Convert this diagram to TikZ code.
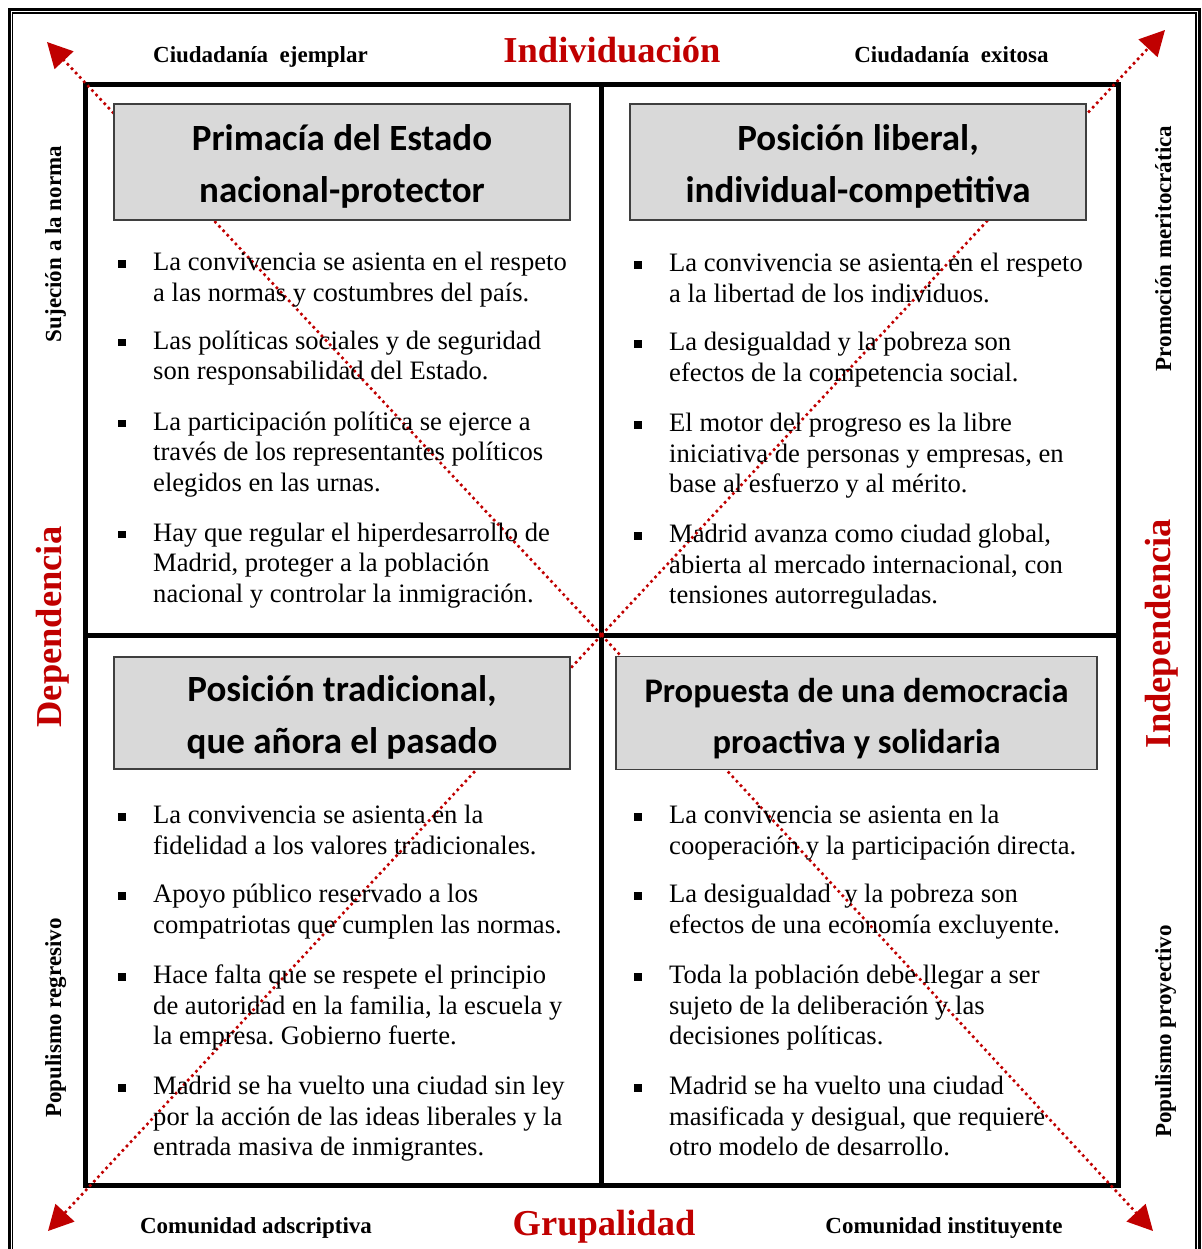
\documentclass[tikz,border=0pt]{standalone}
\usepackage{fontspec}
\setmainfont{Liberation Serif}
\newfontfamily\hdrfont{Carlito}
\usetikzlibrary{arrows.meta, positioning}

\definecolor{axisred}{HTML}{C00000}
\definecolor{hdrfill}{HTML}{D9D9D9}
\definecolor{hdredge}{HTML}{3F3F3F}

\newcommand{\sqbullet}{\llap{\rule[3pt]{7.5pt}{7.5pt}\hspace{27.5pt}}\strut}
\newcommand{\hdrtop}{\rule{0pt}{35pt}}
\frenchspacing

\begin{document}
\begin{tikzpicture}[
    x=1pt, y=-1pt,
    hdr/.style={draw=hdredge, fill=hdrfill, line width=1.5pt, inner sep=0pt, outer sep=0pt,
        align=center, font=\hdrfont\bfseries\fontsize{37}{52}\selectfont},
    item/.style={inner sep=0pt, align=left, font=\fontsize{26.6}{30.5}\selectfont},
    side/.style={rotate=90, anchor=base, font=\bfseries\fontsize{23}{27}\selectfont},
    corner/.style={anchor=base, font=\bfseries\fontsize{23}{27}\selectfont},
    axis/.style={anchor=base, text=axisred, font=\bfseries\fontsize{36.5}{40}\selectfont},
    diag/.style={draw=axisred, line width=2.6pt, dash pattern=on 2.6pt off 3.4pt,
        -{Triangle[length=25pt, width=25.5pt]}}
]
    \useasboundingbox (0,0) rectangle (1201,1249);

    % double frame (bottom edge runs off the page)
    \draw[line width=3pt] (9.5,1260) -- (9.5,10) -- (1199.5,10) -- (1199.5,1260);
    \draw[line width=1.2pt] (12.8,1260) -- (12.8,13) -- (1196,13) -- (1196,1260);

    % quadrant grid
    \node[draw, line width=5pt, minimum width=1033pt, minimum height=1100pt, inner sep=0pt, outer sep=0pt]
        (grid) at (601.5,635) {};
    \draw[line width=5pt] (grid.north) -- (grid.south);
    \draw[line width=5pt] (grid.west) -- (grid.east);

    % diagonals
    \coordinate (tipTL) at (47,42);
    \coordinate (tipTR) at (1165,30);
    \coordinate (tipBL) at (48,1231);
    \coordinate (tipBR) at (1153,1231);
    \draw[diag] (grid.center) -- (tipTL);
    \draw[diag] (grid.center) -- (tipTR);
    \draw[diag] (grid.center) -- (tipBL);
    \draw[diag] (grid.center) -- (tipBR);

    % axis and corner labels
    \node[axis] (indiv) at (612,62.3) {Individuación};
    \node[axis] (grupo) at (604,1235) {Grupalidad};
    \node[axis, rotate=90] (depen) at (61,627) {Dependencia};
    \node[axis, rotate=90] (indep) at (1170,633.5) {Independencia};
    \node[corner] (cejem) at (260.5,62.3) {Ciudadanía\ \ ejemplar};
    \node[corner] (cexit) at (951.5,62.3) {Ciudadanía\ \ exitosa};
    \node[corner] (cadsc) at (256,1233.3) {Comunidad adscriptiva};
    \node[corner] (cinst) at (944,1233.3) {Comunidad instituyente};
    \node[side] (sujec) at (61,244) {Sujeción a la norma};
    \node[side] (popreg) at (61,1018) {Populismo regresivo};
    \node[side] (promo) at (1171,248.5) {Promoción meritocrática};
    \node[side] (poppro) at (1171,1031.5) {Populismo proyectivo};

    % headers
    \node[hdr, minimum width=456pt, minimum height=116pt] (hA) at (342,162)
        {\hdrtop Primacía del Estado\\nacional-protector};
    \node[hdr, minimum width=456pt, minimum height=116pt] (hB) at (858,162)
        {\hdrtop Posición liberal,\\individual-competitiva};
    \node[hdr, minimum width=456pt, minimum height=112pt] (hC) at (342,713)
        {\hdrtop Posición tradicional,\\que añora el pasado};
    \node[hdr, minimum width=481pt, minimum height=113pt, font=\hdrfont\bfseries\fontsize{34.5}{51}\selectfont]
        (hD) at (856.5,713) {\hdrtop Propuesta de una democracia\\proactiva y solidaria};

    % top left
    \node[item, below right=29.2pt and 39pt of hA.south west] (a1)
        {\sqbullet La convivencia se asienta en el respeto\\a las normas y costumbres del país.\strut};
    \node[item, below=17pt of a1.south west, anchor=north west] (a2)
        {\sqbullet Las políticas sociales y de seguridad\\son responsabilidad del Estado.\strut};
    \node[item, below=19.5pt of a2.south west, anchor=north west] (a3)
        {\sqbullet La participación política se ejerce a\\través de los representantes políticos\\elegidos en las urnas.\strut};
    \node[item, below=19.5pt of a3.south west, anchor=north west] (a4)
        {\sqbullet Hay que regular el hiperdesarrollo de\\Madrid, proteger a la población\\nacional y controlar la inmigración.\strut};

    % top right
    \node[item, below right=30.2pt and 39pt of hB.south west] (b1)
        {\sqbullet La convivencia se asienta en el respeto\\a la libertad de los individuos.\strut};
    \node[item, below=17.5pt of b1.south west, anchor=north west] (b2)
        {\sqbullet La desigualdad y la pobreza son\\efectos de la competencia social.\strut};
    \node[item, below=19.5pt of b2.south west, anchor=north west] (b3)
        {\sqbullet El motor del progreso es la libre\\iniciativa de personas y empresas, en\\base al esfuerzo y al mérito.\strut};
    \node[item, below=19.5pt of b3.south west, anchor=north west] (b4)
        {\sqbullet Madrid avanza como ciudad global,\\abierta al mercado internacional, con\\tensiones autorreguladas.\strut};

    % bottom left
    \node[item, below right=33.2pt and 39pt of hC.south west] (c1)
        {\sqbullet La convivencia se asienta en la\\fidelidad a los valores tradicionales.\strut};
    \node[item, below=17.5pt of c1.south west, anchor=north west] (c2)
        {\sqbullet Apoyo público reservado a los\\compatriotas que cumplen las normas.\strut};
    \node[item, below=19.5pt of c2.south west, anchor=north west] (c3)
        {\sqbullet Hace falta que se respete el principio\\de autoridad en la familia, la escuela y\\la empresa. Gobierno fuerte.\strut};
    \node[item, below=19.5pt of c3.south west, anchor=north west] (c4)
        {\sqbullet Madrid se ha vuelto una ciudad sin ley\\por la acción de las ideas liberales y la\\entrada masiva de inmigrantes.\strut};

    % bottom right
    \node[item, below right=32.7pt and 53pt of hD.south west] (d1)
        {\sqbullet La convivencia se asienta en la\\cooperación y la participación directa.\strut};
    \node[item, below=17.5pt of d1.south west, anchor=north west] (d2)
        {\sqbullet La desigualdad\ \ y la pobreza son\\efectos de una economía excluyente.\strut};
    \node[item, below=19.5pt of d2.south west, anchor=north west] (d3)
        {\sqbullet Toda la población debe llegar a ser\\sujeto de la deliberación y las\\decisiones políticas.\strut};
    \node[item, below=19.5pt of d3.south west, anchor=north west] (d4)
        {\sqbullet Madrid se ha vuelto una ciudad\\masificada y desigual, que requiere\\otro modelo de desarrollo.\strut};
\end{tikzpicture}
\end{document}
